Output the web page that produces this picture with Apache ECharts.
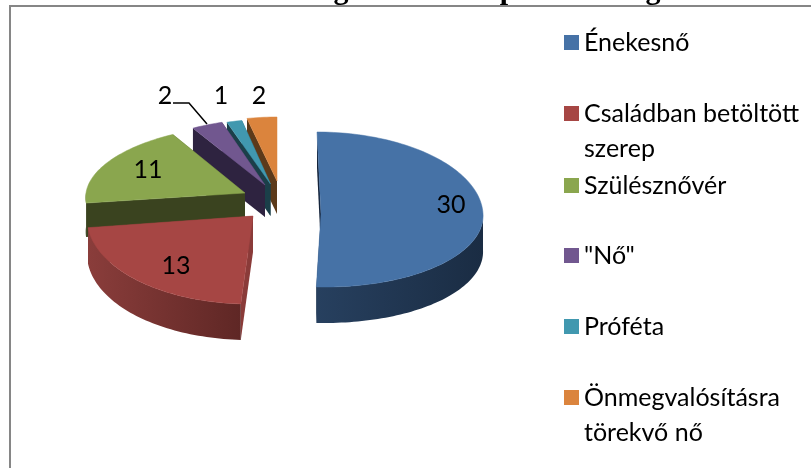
<!DOCTYPE html>
<html>
<head>
<meta charset="utf-8">
<style>html,body{margin:0;padding:0;background:#fff}#c{width:811px;height:468px}</style>
<script src="https://cdn.jsdelivr.net/npm/echarts@6/dist/echarts.min.js"></script>
</head>
<body>
<div id="c"></div>
<script>
const categories = ['Énekesnő', 'Családban betöltött szerep', 'Szülésznővér', '"Nő"', 'Próféta', 'Önmegvalósításra törekvő nő'];
const values = [30, 13, 11, 2, 1, 2];
const topColors = ['#4672A6', '#A64644', '#8AA64E', '#71578F', '#4198AF', '#DB843D'];
const edgeColors = ['#14233A', '#8A3B39', '#3A431F', '#2E2340', '#1B3F49', '#5C3A1A'];
const rimLeft = ['#27405F', '#8A3D3B', '#3A431F', '#2E2340', '#1B3F49', '#5C3A1A'];
const rimRight = ['#1A2C43', '#5F2725', '#3A431F', '#2E2340', '#1B3F49', '#5C3A1A'];
const legendCentres = [42.5, 113.5, 185.5, 255.5, 326.5, 397.5];
const wrapped = {1: '\nCsaládban betöltött\nszerep', 5: '\nÖnmegvalósításra\ntörekvő nő'};

// exploded, tilted wedges: apex, radii, ground-plane shear, wall height
const wedges = [
  {cx: 321, cy: 214, rx: 162, back: 82, front: 73, sh: -4, h: 36, label: [451, 205]},
  {cx: 253, cy: 216, rx: 166, back: 88, front: 88, sh: 3.4, h: 36, label: [176, 266]},
  {cx: 245, cy: 193, rx: 159, back: 68, front: 76, sh: 10, h: 34, label: [148, 170]},
  {cx: 265, cy: 185, rx: 148, back: 66, front: 66, sh: 3.6, h: 32, label: [165, 96]},
  {cx: 270.5, cy: 184, rx: 145, back: 65, front: 65, sh: 2.1, h: 32, label: [221, 96]},
  {cx: 277, cy: 181, rx: 142, back: 64, front: 64, sh: 0, h: 33, label: [259, 96]}
];
const FONT = 'Lato, "Open Sans", sans-serif';
const total = values.reduce((a, b) => a + b, 0);

function point(w, deg, dz) {
  const t = deg * Math.PI / 180, s = Math.sin(t), c = Math.cos(t);
  return [w.cx + w.rx * s + w.sh * c, w.cy - (c > 0 ? w.back : w.front) * c + (dz || 0)];
}
function arc(w, a, b, dz) {
  const pts = [], n = Math.max(2, Math.ceil((b - a) / 1.5));
  for (let i = 0; i <= n; i++) pts.push(point(w, a + (b - a) * i / n, dz));
  return pts;
}
function makeRender(i) {
  const before = values.slice(0, i).reduce((a, b) => a + b, 0);
  return function (params, api) {
    const w = wedges[i], val = api.value(0);
    const a = before / total * 360, b = (before + val) / total * 360;
    const apex = [w.cx, w.cy], children = [];
    const edgeFace = d => {
      const p = point(w, d);
      return {type: 'polygon', shape: {points: [apex, p, [p[0], p[1] + w.h], [apex[0], apex[1] + w.h]]},
        style: {fill: edgeColors[i]}};
    };
    children.push(edgeFace(b), edgeFace(a));
    const ra = Math.max(a, 90), rb = Math.min(b, 270);
    if (rb > ra) {
      children.push({type: 'polygon',
        shape: {points: arc(w, ra, rb, 0).concat(arc(w, ra, rb, w.h).reverse())},
        style: {fill: new echarts.graphic.LinearGradient(1, 0, 0, 0, [
          {offset: 0, color: rimRight[i]},
          {offset: 1, color: rimLeft[i]}])}});
    }
    children.push({type: 'polygon', shape: {points: [apex].concat(arc(w, a, b, 0))},
      style: {fill: topColors[i], stroke: topColors[i], lineWidth: 0.5}});
    if (i === 3) {
      children.push({type: 'polyline', z2: 10, shape: {points: [[w.label[0] + 8, w.label[1] + 7], [w.label[0] + 24, w.label[1] + 7], [w.label[0] + 42, w.label[1] + 28]]},
        style: {stroke: '#000', lineWidth: 1.5, fill: null}});
    }
    children.push({type: 'text', z2: 10, style: {text: String(val), x: w.label[0], y: w.label[1], fill: '#000',
      font: '25px ' + FONT, textAlign: 'center', textVerticalAlign: 'middle'}});
    return {type: 'group', children};
  };
}

const chart = echarts.init(document.getElementById('c'), null, {renderer: 'canvas'});
chart.setOption({
  animation: false,
  backgroundColor: '#fff',
  legend: categories.map((name, i) => {
    const two = !!wrapped[i];
    return {
      data: [{name, icon: 'rect', itemStyle: {color: topColors[i]}}],
      left: 564, top: legendCentres[i] - (two ? 52.5 : 17.5),
      orient: 'vertical', padding: 0, itemWidth: 15, itemHeight: 15, selectedMode: false,
      formatter: n => wrapped[categories.indexOf(n)] || n,
      textStyle: {fontFamily: FONT, fontSize: 25, color: '#000', lineHeight: 35}
    };
  }),
  graphic: [
    {type: 'line', shape: {x1: 10, y1: 6, x2: 811, y2: 6}, style: {stroke: '#868686', lineWidth: 2}, z: 50},
    {type: 'line', shape: {x1: 10, y1: 5, x2: 10, y2: 468}, style: {stroke: '#868686', lineWidth: 2}, z: 50},
    {type: 'text', x: 341, y: 6, style: {text: 'g', font: 'bold 30px "Liberation Serif"', fill: '#000', textAlign: 'center', textVerticalAlign: 'bottom'}, z: 40},
    {type: 'text', x: 508, y: 6, style: {text: 'p', font: 'bold 30px "Liberation Serif"', fill: '#000', textAlign: 'center', textVerticalAlign: 'bottom'}, z: 40},
    {type: 'text', x: 653, y: 6, style: {text: 'g', font: 'bold 30px "Liberation Serif"', fill: '#000', textAlign: 'center', textVerticalAlign: 'bottom'}, z: 40}
  ],
  series: categories.map((name, i) => ({
    type: 'custom', name, coordinateSystem: 'none', z: 12 - i,
    itemStyle: {color: topColors[i]},
    renderItem: makeRender(i),
    data: [[values[i]]]
  }))
});
</script>
</body>
</html>
